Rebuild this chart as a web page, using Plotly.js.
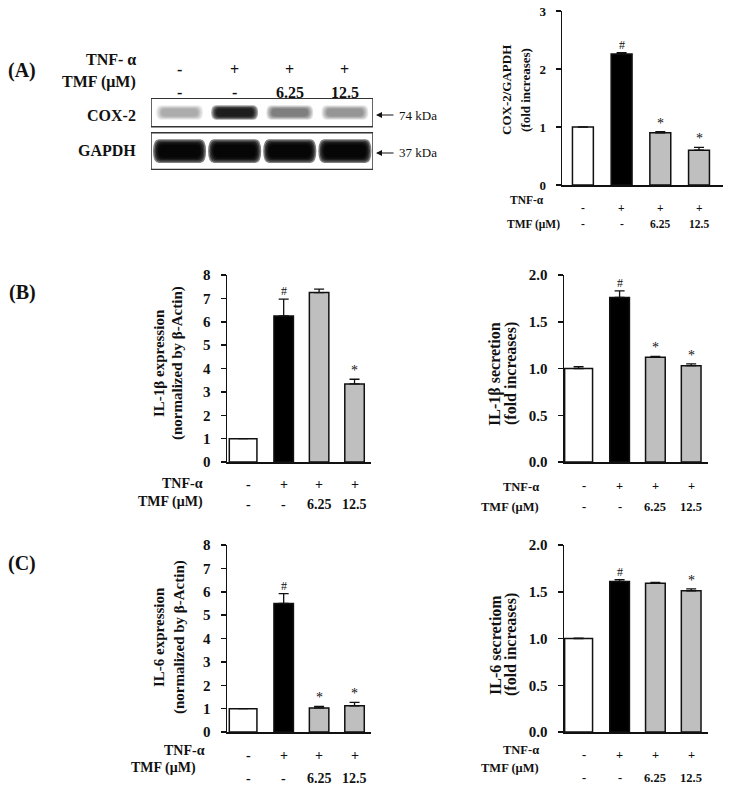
<!DOCTYPE html>
<html>
<head>
<meta charset="utf-8">
<script src="https://cdn.plot.ly/plotly-3.0.1.min.js"></script>
<style>
  html, body { margin: 0; padding: 0; background: #fff; }
  #chart { width: 729px; height: 799px; }
</style>
</head>
<body>
<div id="chart"></div>
<script>
// grupos de tratamiento
const lanes = [0, 1, 2, 3];
const tnfSigns = ['-', '+', '+', '+'];
const tmfDoses = ['-', '-', '6.25', '12.5'];
const barColors = ['#ffffff', '#000000', '#bfbfbf', '#bfbfbf'];

// (A) western blot, oscuridad relativa de las bandas (0-1)
const cox2Band = [0.32, 0.88, 0.5, 0.4];
const gapdhBand = [0.97, 0.97, 0.97, 0.97];

// (A) COX-2/GAPDH
const cox2Ratio = [1.0, 2.26, 0.90, 0.60];
const cox2Err = [0, 0.02, 0.02, 0.05];
const cox2Marks = ['', '#', '*', '*'];

// (B) IL-1b
const il1bExpr = [1.0, 6.25, 7.25, 3.34];
const il1bExprErr = [0, 0.72, 0.15, 0.2];
const il1bExprMarks = ['', '#', '', '*'];
const il1bSec = [1.0, 1.76, 1.12, 1.03];
const il1bSecErr = [0.02, 0.07, 0.01, 0.02];
const il1bSecMarks = ['', '#', '*', '*'];

// (C) IL-6
const il6Expr = [1.0, 5.5, 1.03, 1.12];
const il6ExprErr = [0, 0.42, 0.07, 0.15];
const il6ExprMarks = ['', '#', '*', '*'];
const il6Sec = [1.0, 1.61, 1.59, 1.51];
const il6SecErr = [0.005, 0.02, 0.01, 0.02];
const il6SecMarks = ['', '#', '', '*'];

const W = 729, H = 799;
const px = v => v / W;
const py = v => 1 - v / H;
const FONT = 'Liberation Serif, Times New Roman, serif';

// ancho y desplazamiento de las barras (la blanca es mas ancha en B y C)
const wideWidth = [0.78, 0.55, 0.55, 0.55];
const wideOffset = [-0.535, -0.275, -0.275, -0.275];

const panels = [
  { id: 1, vals: cox2Ratio, err: cox2Err, marks: cox2Marks,
    xd: [562, 723], yd: [185, 11], xr: [-0.54, 3.62], ymax: 3, dtick: 1, fmt: 'd',
    width: [0.54, 0.54, 0.54, 0.54], offset: [-0.27, -0.27, -0.27, -0.27],
    tick: 13, title: ['COX-2/GAPDH', '(fold increases)'], tx: [506, 525], ty: 90, tsize: 13,
    lab: { size: 11.5, tnf: [546, 200], tmf: [562, 224] }, rows: [208, 224] },
  { id: 2, vals: il1bExpr, err: il1bExprErr, marks: il1bExprMarks,
    xd: [227, 371], yd: [462, 275], xr: [-0.6, 3.465], ymax: 8, dtick: 1, fmt: 'd',
    width: wideWidth, offset: wideOffset,
    tick: 15, title: ['IL-1β expression', '(normalized by β-Actin)'], tx: [159, 178], ty: 363, tsize: 15,
    lab: { size: 14, tnf: [205, 483], tmf: [205, 502] }, rows: [485, 504] },
  { id: 3, vals: il1bSec, err: il1bSecErr, marks: il1bSecMarks,
    xd: [564, 708], yd: [462, 275], xr: [-0.553, 3.47], ymax: 2, dtick: 0.5, fmt: '.1f',
    width: wideWidth, offset: wideOffset,
    tick: 15, title: ['IL-1β secretion', '(fold increases)'], tx: [495, 511], ty: 374, tsize: 16,
    lab: { size: 12.5, tnf: [541, 487], tmf: [541, 507] }, rows: [486, 507] },
  { id: 4, vals: il6Expr, err: il6ExprErr, marks: il6ExprMarks,
    xd: [227, 371], yd: [732, 545], xr: [-0.6, 3.465], ymax: 8, dtick: 1, fmt: 'd',
    width: wideWidth, offset: wideOffset,
    tick: 15, title: ['IL-6 expression', '(normalized by β-Actin)'], tx: [159, 179], ty: 637, tsize: 15,
    lab: { size: 14, tnf: [207, 750], tmf: [198, 768] }, rows: [755, 778] },
  { id: 5, vals: il6Sec, err: il6SecErr, marks: il6SecMarks,
    xd: [564, 708], yd: [732, 545], xr: [-0.553, 3.47], ymax: 2, dtick: 0.5, fmt: '.1f',
    width: wideWidth, offset: wideOffset,
    tick: 15, title: ['IL-6 secretiom', '(fold increases)'], tx: [495, 511], ty: 645, tsize: 16,
    lab: { size: 12.5, tnf: [541, 750], tmf: [541, 768] }, rows: [755, 778] }
];

const traces = [];
const annotations = [];
const shapes = [];
const layout = {
  width: W, height: H,
  margin: { l: 0, r: 0, t: 0, b: 0 },
  paper_bgcolor: '#ffffff', plot_bgcolor: 'rgba(0,0,0,0)',
  showlegend: false,
  font: { family: FONT, color: '#111' },
  annotations: annotations,
  shapes: shapes
};

panels.forEach(p => {
  const xa = 'x' + p.id, ya = 'y' + p.id;
  traces.push({
    type: 'bar', x: lanes, y: p.vals,
    xaxis: xa, yaxis: ya,
    width: p.width, offset: p.offset,
    marker: { color: barColors, line: { color: '#111', width: 1.5 } },
    error_y: { type: 'data', symmetric: false, array: p.err, arrayminus: [0, 0, 0, 0],
               color: '#111', thickness: 1.3, width: 5 },
    hoverinfo: 'skip'
  });
  layout['xaxis' + p.id] = {
    domain: [px(p.xd[0]), px(p.xd[1])], range: p.xr, anchor: ya,
    showline: true, linecolor: '#111', linewidth: 1.5,
    ticks: '', showticklabels: false, showgrid: false, zeroline: false, fixedrange: true
  };
  layout['yaxis' + p.id] = {
    domain: [py(p.yd[0]), py(p.yd[1])], range: [0, p.ymax], anchor: xa,
    dtick: p.dtick, tickformat: p.fmt,
    showline: true, linecolor: '#111', linewidth: 1.5,
    ticks: 'outside', ticklen: 5, tickwidth: 1.5, tickcolor: '#111',
    ticklabelstandoff: 7,
    tickfont: { family: FONT, size: p.tick, weight: 'bold', color: '#111' },
    showgrid: false, zeroline: false, fixedrange: true
  };

  // titulo del eje y en dos lineas
  p.title.forEach((t, k) => {
    annotations.push({
      xref: 'paper', yref: 'paper', x: px(p.tx[k]), y: py(p.ty),
      text: t, textangle: -90, showarrow: false, xanchor: 'center', yanchor: 'middle',
      font: { family: FONT, size: p.tsize, weight: 'bold', color: '#111' }
    });
  });

  // marcas de significancia
  p.marks.forEach((m, i) => {
    if (!m) return;
    annotations.push({
      xref: xa, yref: ya, x: lanes[i], y: p.vals[i] + p.err[i],
      text: m, showarrow: false, yanchor: 'bottom', yshift: -1,
      font: { family: FONT, size: m === '#' ? 12 : 14, color: '#111' }
    });
  });

  // etiquetas de tratamiento bajo el eje
  annotations.push({
    xref: 'paper', yref: 'paper', x: px(p.lab.tnf[0]), y: py(p.lab.tnf[1]),
    text: 'TNF-α', showarrow: false, xanchor: 'right', yanchor: 'middle',
    font: { family: FONT, size: p.lab.size, weight: 'bold', color: '#111' }
  });
  annotations.push({
    xref: 'paper', yref: 'paper', x: px(p.lab.tmf[0]), y: py(p.lab.tmf[1]),
    text: 'TMF (μM)', showarrow: false, xanchor: 'right', yanchor: 'middle',
    font: { family: FONT, size: p.lab.size, weight: 'bold', color: '#111' }
  });
  lanes.forEach(i => {
    [tnfSigns[i], tmfDoses[i]].forEach((s, r) => {
      annotations.push({
        xref: xa, yref: 'paper', x: lanes[i], y: py(p.rows[r]),
        text: s, showarrow: false, xanchor: 'center', yanchor: 'middle',
        font: { family: FONT, size: p.lab.size, weight: 'bold', color: '#111' }
      });
    });
  });
});

// ---- western blot (A) ----
layout.xaxis6 = { domain: [px(151), px(373)], range: [-0.518, 3.51], visible: false, fixedrange: true };
layout.yaxis6 = { domain: [py(170), py(98)], range: [1.49, -0.377], visible: false, fixedrange: true, anchor: 'x6' };
traces.push({ x: lanes, y: [0, 0, 0, 0], xaxis: 'x6', yaxis: 'y6', mode: 'markers',
              marker: { opacity: 0 }, hoverinfo: 'skip' });

function bandPath(cx, cy, hw, hh) {
  const x0 = cx - hw, x1 = cx + hw, y0 = cy - hh, y1 = cy + hh, r = hw * 0.22;
  return `M ${x0 + r} ${y0} L ${x1 - r} ${y0} Q ${x1} ${y0} ${x1} ${cy} Q ${x1} ${y1} ${x1 - r} ${y1} ` +
         `L ${x0 + r} ${y1} Q ${x0} ${y1} ${x0} ${cy} Q ${x0} ${y0} ${x0 + r} ${y0} Z`;
}
// banda difusa: capas superpuestas cuya suma da la oscuridad pedida
function addBand(lane, row, darkness, hw, hh) {
  const n = 5;
  const a = 1 - Math.pow(1 - darkness, 1 / n);
  for (let k = 0; k < n; k++) {
    shapes.push({ type: 'path', xref: 'x6', yref: 'y6',
                  path: bandPath(lane, row, hw * (1.12 - 0.06 * k), hh * (1.55 - 0.18 * k)),
                  fillcolor: `rgba(0,0,0,${a.toFixed(3)})`, line: { width: 0 } });
  }
}
lanes.forEach(i => addBand(i, 0, cox2Band[i], 0.38, 0.12));
lanes.forEach(i => addBand(i, 1, gapdhBand[i], 0.43, 0.2));

// marcos del blot
shapes.push({ type: 'rect', xref: 'x6', yref: 'y6', x0: -0.518, x1: 3.51, y0: -0.37, y1: 0.37,
              line: { color: '#333', width: 1.5 } });
shapes.push({ type: 'rect', xref: 'x6', yref: 'y6', x0: -0.518, x1: 3.51, y0: 0.525, y1: 1.475,
              line: { color: '#333', width: 1.5 } });

const blotFont = { family: FONT, size: 16, weight: 'bold', color: '#111' };
[['TNF- α', 59], ['TMF (μM)', 82], ['COX-2', 115], ['GAPDH', 151]].forEach(([t, y]) => {
  annotations.push({ xref: 'paper', yref: 'paper', x: px(138), y: py(y), text: t,
                     showarrow: false, xanchor: 'right', yanchor: 'middle', font: blotFont });
});
lanes.forEach(i => {
  annotations.push({ xref: 'x6', yref: 'paper', x: lanes[i], y: py(59), text: tnfSigns[i],
                     showarrow: false, font: blotFont });
  annotations.push({ xref: 'x6', yref: 'paper', x: lanes[i], y: py(82), text: tmfDoses[i],
                     showarrow: false, font: blotFont });
});
[['74 kDa', 115], ['37 kDa', 153]].forEach(([t, y]) => {
  annotations.push({ xref: 'paper', yref: 'paper', x: px(376), y: py(y), ax: 19, ay: 0,
                     text: '', showarrow: true, arrowhead: 2, arrowsize: 1, arrowwidth: 1.2, arrowcolor: '#111' });
  annotations.push({ xref: 'paper', yref: 'paper', x: px(397), y: py(y), text: t,
                     showarrow: false, xanchor: 'left', yanchor: 'middle',
                     font: { family: FONT, size: 13, color: '#111' } });
});

// letras de panel
[['(A)', 70], ['(B)', 293], ['(C)', 563]].forEach(([t, y]) => {
  annotations.push({ xref: 'paper', yref: 'paper', x: px(22), y: py(y), text: t,
                     showarrow: false, xanchor: 'center', yanchor: 'middle',
                     font: { family: FONT, size: 20, weight: 'bold', color: '#111' } });
});

Plotly.newPlot('chart', traces, layout, { staticPlot: true, displayModeBar: false });
</script>
</body>
</html>
